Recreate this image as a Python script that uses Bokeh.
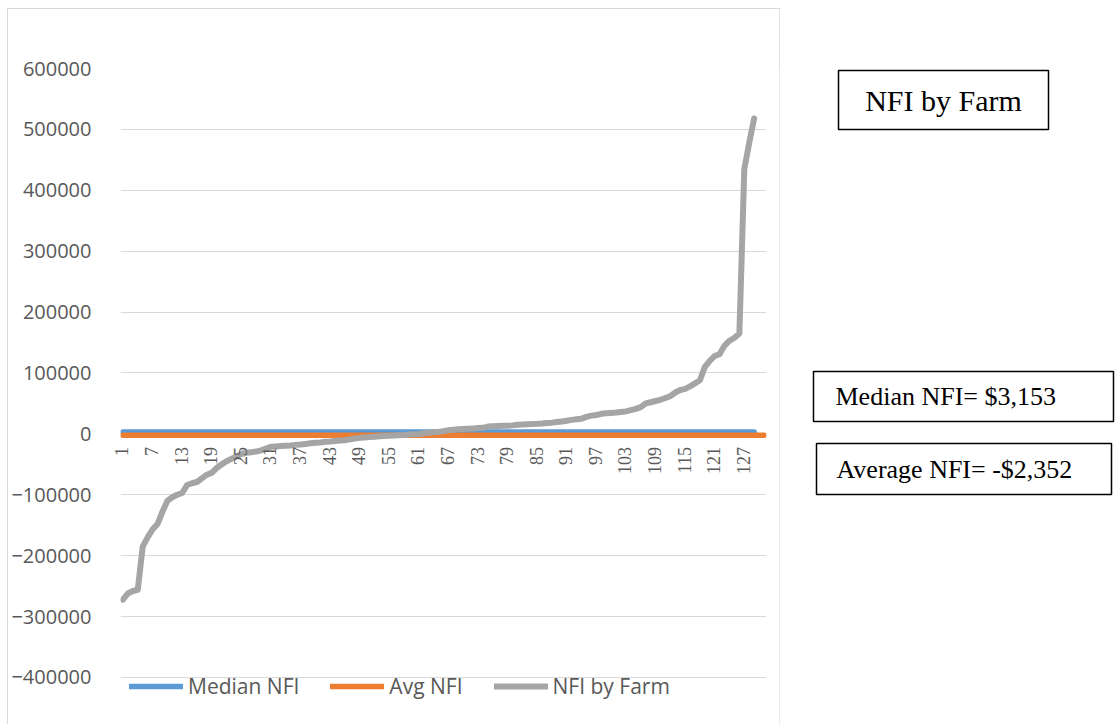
import math
from bokeh.plotting import figure
from bokeh.models import (Range1d, FixedTicker, Legend, BasicTickFormatter, Spacer,
                          HTMLLabelSet, ColumnDataSource)
from bokeh.layouts import row, column
from bokeh.embed import file_html
from bokeh.resources import INLINE
from bokeh.core.properties import value

# ---- data ----
farm_nfi = [
    -272000, -262000, -258000, -256000, -185000, -170000, -157000, -148000, -128000, -110000,
    -104000, -100000, -97000, -84000, -81000, -79000, -73000, -67000, -64000, -56000,
    -50000, -45000, -41000, -37000, -33000, -31000, -30000, -29000, -27000, -24000,
    -21000, -20500, -20000, -19500, -19000, -18000, -17500, -16500, -15500, -14500,
    -14000, -13000, -12500, -11500, -11000, -10500, -9000, -7500, -6500, -6000,
    -5000, -4500, -4000, -3500, -3200, -2800, -2200, -1800, -1000, -500,
    0, 1000, 1800, 2600, 3153, 4500, 6000, 7000, 7500, 8000,
    8500, 9000, 9500, 10000, 12000, 12500, 13000, 13200, 13500, 14000,
    15000, 15500, 16000, 16200, 16500, 17000, 18000, 18500, 19500, 20500,
    21500, 23000, 24000, 25000, 28000, 30000, 31000, 33000, 34000, 34500,
    35000, 36000, 37000, 39000, 41000, 44000, 50000, 52000, 54000, 56000,
    59000, 62000, 68000, 72000, 74000, 78000, 83000, 88000, 110000, 120000,
    128000, 131000, 145000, 153000, 158000, 165000, 435000, 478000, 518000,
]
median_nfi = [3153] * 129
avg_nfi = [-2352] * 131
farm_x = list(range(1, len(farm_nfi) + 1))
median_x = list(range(1, len(median_nfi) + 1))
avg_x = list(range(1, len(avg_nfi) + 1))

x_tick_positions = [1, 7, 13, 19, 25, 31, 37, 43, 49, 55, 61, 67, 73, 79, 85, 91, 97, 103, 109, 115, 121, 127]
x_tick_labels = [str(v) for v in x_tick_positions]
y_ticks = [-400000, -300000, -200000, -100000, 0, 100000, 200000, 300000, 400000, 500000, 600000]

series_names = ["Median NFI", "Avg NFI", "NFI by Farm"]
series_colors = ["#5B9BD5", "#ED7D31", "#A5A5A5"]

box_texts = ["NFI by Farm", "Median NFI= $3,153", "Average NFI= -$2,352"]

FONT = "Open Sans"
GREY_TXT = "#595959"

# ---- main chart ----
p = figure(width=771, height=715,
           x_range=Range1d(0.5, 131.5), y_range=Range1d(-477176, 600000),
           output_backend="svg", toolbar_location=None,
           min_border_left=109, min_border_right=13, min_border_top=59, min_border_bottom=0)
p.xgrid.visible = False
p.xaxis.visible = False

ticker = FixedTicker(ticks=y_ticks)
p.yaxis.ticker = ticker
p.ygrid.ticker = ticker
p.yaxis.formatter = BasicTickFormatter(use_scientific=False)
p.yaxis.axis_line_color = None
p.yaxis.major_tick_line_color = None
p.yaxis.minor_tick_line_color = None
p.yaxis.major_label_standoff = 23
p.yaxis.major_label_text_font = FONT
p.yaxis.major_label_text_font_size = "20px"
p.yaxis.major_label_text_color = GREY_TXT
p.ygrid.grid_line_color = "#d9d9d9"
p.ygrid.grid_line_width = 1
p.outline_line_color = None
p.background_fill_color = "white"
p.border_fill_color = "white"
p.styles = {"outline": "1px solid #d9d9d9"}

# category labels along the zero line, rotated to read bottom-to-top
lab_src = ColumnDataSource(dict(x=x_tick_positions, y=[0] * len(x_tick_positions), text=x_tick_labels))
xlabels = HTMLLabelSet(source=lab_src, x="x", y="y", text="text",
                       angle=math.pi / 2, text_align="right", text_baseline="middle",
                       y_offset=-14, text_font=FONT, text_font_size="18px", text_color=GREY_TXT)
p.add_layout(xlabels)

r_med = p.line(median_x, median_nfi, line_color=series_colors[0], line_width=5.5,
               line_cap="round", line_join="round")
r_avg = p.line(avg_x, avg_nfi, line_color=series_colors[1], line_width=5.5,
               line_cap="round", line_join="round")
r_farm = p.line(farm_x, farm_nfi, line_color=series_colors[2], line_width=6,
                line_cap="round", line_join="round")

legend = Legend(items=[(series_names[0], [r_med]), (series_names[1], [r_avg]), (series_names[2], [r_farm])],
                location=(9, 24), orientation="horizontal",
                glyph_width=54, glyph_height=24, label_height=24, label_standoff=5,
                spacing=31, padding=0, margin=0,
                border_line_color=None, background_fill_alpha=0,
                label_text_font=FONT, label_text_font_size="21px", label_text_color=GREY_TXT)
p.add_layout(legend)

# ---- right side text boxes (frame top aligns with the chart's frame top, page y 68) ----
pr = figure(width=340, height=715, x_range=Range1d(779, 1119), y_range=Range1d(724, 68),
            output_backend="svg", toolbar_location=None,
            min_border_left=0, min_border_right=0, min_border_top=59, min_border_bottom=0,
            x_axis_type=None, y_axis_type=None)
pr.grid.visible = False
pr.outline_line_color = None
pr.background_fill_color = "white"
pr.border_fill_color = "white"

pr.quad(left=[838, 813, 816], right=[1048, 1113, 1111], top=[70, 371, 443], bottom=[129, 421, 494],
        fill_color="white", line_color="black", line_width=1.5)
pr.text(x=[943], y=[100], text=[box_texts[0]], text_align="center", text_baseline="middle",
        text_font=value("Liberation Serif"), text_font_size="30px", text_color="black")
pr.text(x=[835, 836], y=[396, 469], text=box_texts[1:], text_align="left", text_baseline="middle",
        text_font=value("Liberation Serif"), text_font_size="26px", text_color="black")

layout = column(Spacer(width=1119, height=9),
                row(Spacer(width=8, height=715), p, pr))

open("out.html", "w").write(file_html(layout, INLINE))
